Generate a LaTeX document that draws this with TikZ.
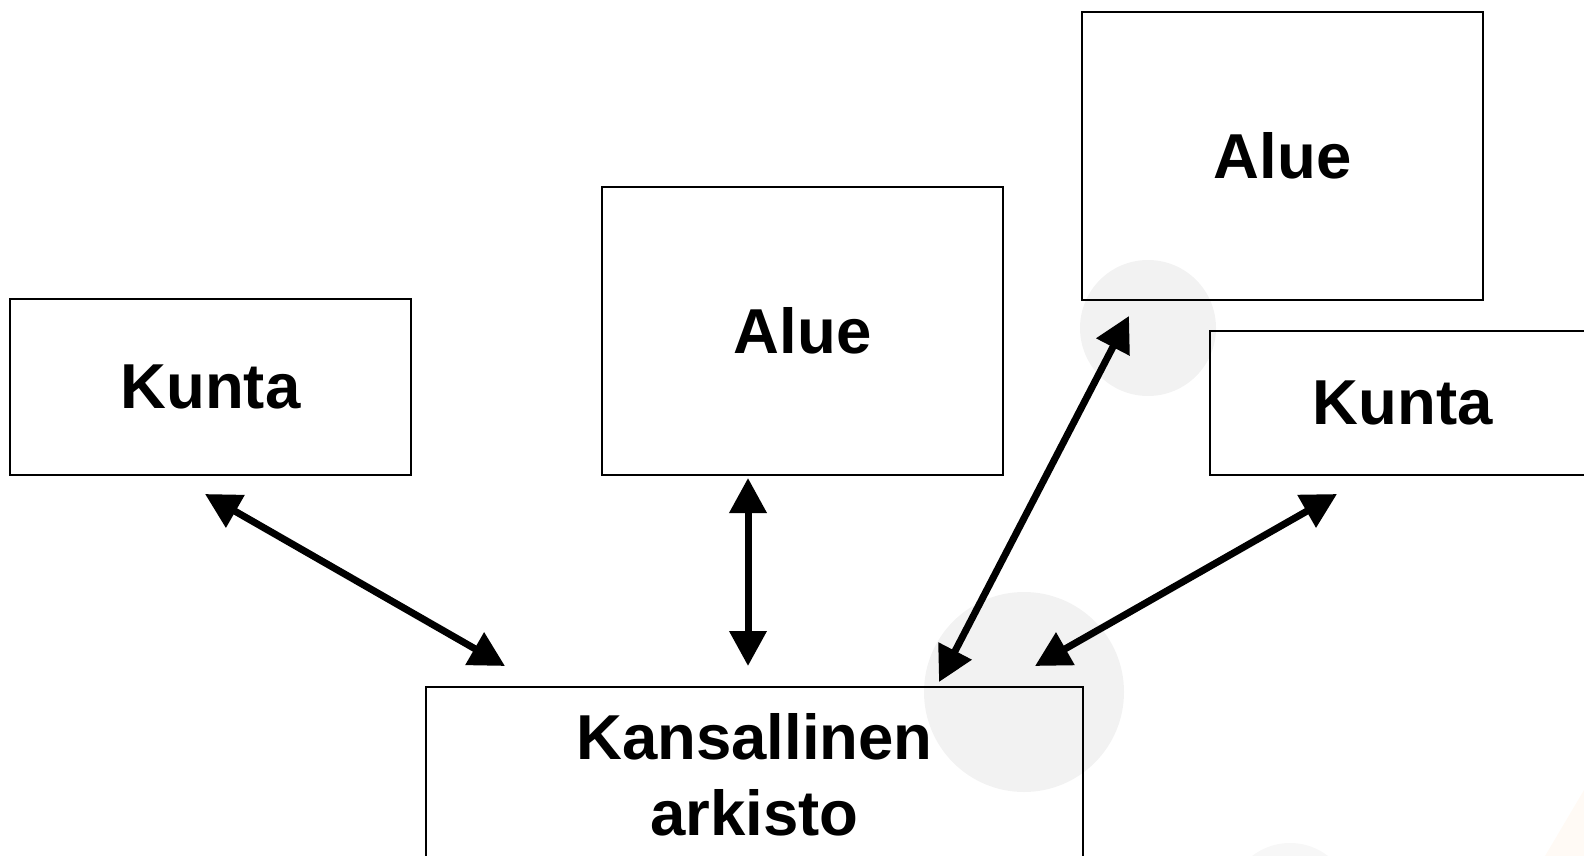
\documentclass[tikz,border=0pt]{standalone}
\usepackage{fontspec}
\setmainfont{Liberation Sans}
\usetikzlibrary{arrows.meta}

\begin{document}
\begin{tikzpicture}[x=1pt,y=-1pt,
   box/.style={draw,line width=2pt,inner sep=0pt,align=center,
      font=\fontsize{63.5}{76}\selectfont\bfseries},
   link/.style={line width=7pt,
      {Triangle[length=35pt,width=36pt]}-{Triangle[length=35pt,width=36pt]}},
   blob/.style={fill=black!5}]
   \useasboundingbox (0,0) rectangle (1584,856);
   \clip (0,0) rectangle (1584,856);

   % background
   \fill[blob] (1148,328) circle (68pt);
   \fill[blob] (1024,692) circle (100pt);
   \fill[black!3] (1290,905) circle (62pt);
   \fill[orange!4] (1584,790) -- (1584,856) -- (1545,856) -- cycle;

   % boxes
   \node[box,minimum width=401pt,minimum height=176pt] (kuntaL) at (210.5,387) {Kunta};
   \node[box,minimum width=401pt,minimum height=288pt] (alueM) at (802.5,331) {Alue};
   \node[box,minimum width=401pt,minimum height=288pt] (alueR) at (1282.5,156) {Alue};
   \node[box,minimum width=385pt,minimum height=144pt] (kuntaR) at (1402.5,403) {Kunta};
   \node[box,minimum width=657pt,minimum height=176pt] (kansa) at (754.5,775) {Kansallinen\\arkisto};

   % links
   \draw[link] ([xshift=-5.5pt,yshift=-18pt]kuntaL.south) -- ([xshift=-249.5pt,yshift=20pt]kansa.north);
   \draw[link] ([xshift=-54.5pt,yshift=-2pt]alueM.south) -- ([xshift=-6.5pt,yshift=20pt]kansa.north);
   \draw[link] ([xshift=-153.5pt,yshift=-15pt]alueR.south) -- ([xshift=184.5pt,yshift=4pt]kansa.north);
   \draw[link] ([xshift=-65.5pt,yshift=-18pt]kuntaR.south) -- ([xshift=280.5pt,yshift=20pt]kansa.north);
\end{tikzpicture}
\end{document}
